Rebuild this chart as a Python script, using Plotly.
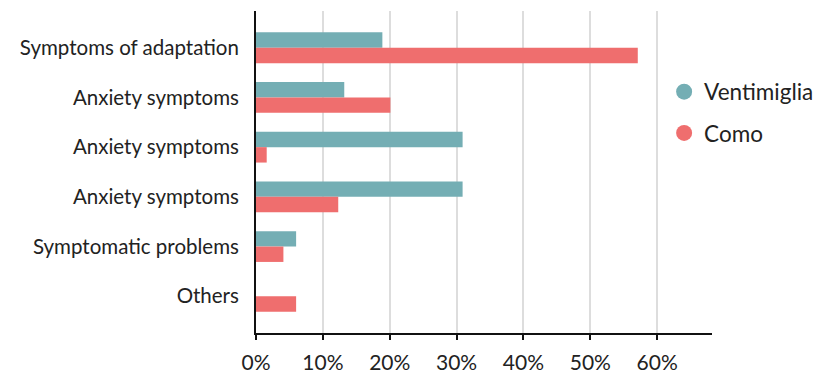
import plotly.graph_objects as go

categories = ["Symptoms of adaptation", "Anxiety symptoms", "Anxiety symptoms",
              "Anxiety symptoms", "Symptomatic problems", "Others"]
ventimiglia = [18.9, 13.2, 30.9, 30.9, 6.0, 0.0]
como = [57.1, 20.1, 1.6, 12.3, 4.1, 6.0]
x_ticks = [0, 10, 20, 30, 40, 50, 60]
x_tick_labels = ["0%", "10%", "20%", "30%", "40%", "50%", "60%"]

TEAL = "#74aeb4"
RED = "#ef6e6e"
FONT = "Lato"
TXT = "#222222"

pos = list(range(len(categories)))

fig = go.Figure()
fig.add_trace(go.Bar(y=pos, x=ventimiglia, orientation="h", marker_color=TEAL,
                     marker_line_width=0, showlegend=False, name="Ventimiglia"))
fig.add_trace(go.Bar(y=pos, x=como, orientation="h", marker_color=RED,
                     marker_line_width=0, showlegend=False, name="Como"))
# legend entries with circle symbols
fig.add_trace(go.Scatter(x=[None], y=[None], mode="markers", name="Ventimiglia",
                         marker=dict(color=TEAL, size=22, symbol="circle"),
                         legendgroup="v"))
fig.add_trace(go.Scatter(x=[None], y=[None], mode="markers", name="Como",
                         marker=dict(color=RED, size=22, symbol="circle"),
                         legendgroup="c"))

fig.update_layout(
    width=820, height=375,
    margin=dict(l=256, r=108, t=11, b=42, autoexpand=False),
    paper_bgcolor="white", plot_bgcolor="white",
    barmode="group", bargap=0.38, bargroupgap=0,
    font=dict(family=FONT, size=18, color=TXT),
    legend=dict(x=0.895, y=0.815, xanchor="left", yanchor="top",
                font=dict(family=FONT, size=22.5, color=TXT),
                itemsizing="trace", tracegroupgap=9, traceorder="grouped",
                bgcolor="rgba(0,0,0,0)"),
)
fig.update_xaxes(range=[0, 68.2], tickvals=x_ticks, ticktext=x_tick_labels,
                 showgrid=True, gridcolor="#dddddd", gridwidth=1.5,
                 zeroline=False, showline=True, linecolor="#111111", linewidth=2,
                 ticks="outside", ticklen=5, tickwidth=2, tickcolor="#111111",
                 ticklabelstandoff=5, automargin=False,
                 tickfont=dict(family=FONT, size=21, color=TXT))
fig.update_yaxes(range=[5.74, -0.74], tickvals=pos, ticktext=categories,
                 showgrid=False, zeroline=False, showline=True,
                 linecolor="#111111", linewidth=2, ticks="",
                 ticklabelstandoff=11, automargin=False,
                 tickfont=dict(family=FONT, size=20.5, color=TXT))

fig.write_html("out.html")
